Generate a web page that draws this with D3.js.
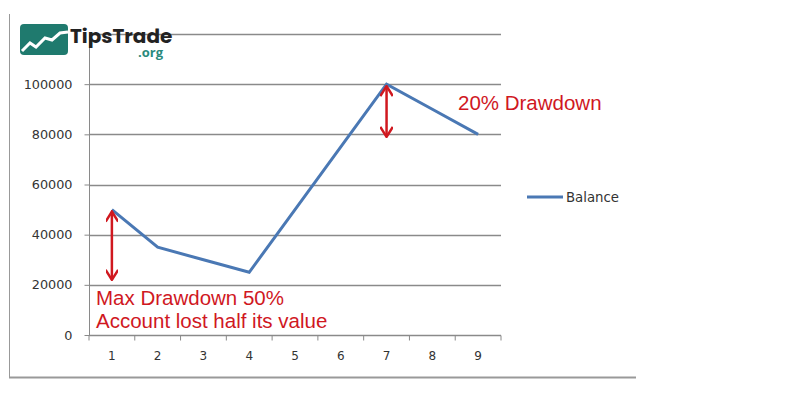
<!DOCTYPE html>
<html>
<head>
<meta charset="utf-8">
<script src="https://cdn.jsdelivr.net/npm/d3@7"></script>
<style>
  body { margin: 0; background: #fff; }
  text { font-family: "Liberation Sans", Arial, sans-serif; }
</style>
</head>
<body>
<div id="chart"></div>
<script>
// balance per period
var periods = [1, 2, 3, 4, 5, 6, 7, 8, 9];
var balance = [50000, 35000, 30000, 25000, 50000, 75000, 100000, 90000, 80000];
var yTicks = [0, 20000, 40000, 60000, 80000, 100000, 120000];
var seriesName = "Balance";

var width = 800, height = 400;
var svg = d3.select("#chart").append("svg")
    .attr("width", width)
    .attr("height", height);

// outer frame (left + bottom only visible)
svg.append("line").attr("x1", 9.5).attr("x2", 9.5).attr("y1", 14).attr("y2", 378)
    .attr("stroke", "#999").attr("stroke-width", 1);
svg.append("line").attr("x1", 9).attr("x2", 636).attr("y1", 377.5).attr("y2", 377.5)
    .attr("stroke", "#999").attr("stroke-width", 2);

var x = d3.scaleBand().domain(periods).range([89, 501]);
var y = d3.scaleLinear().domain([0, 120000]).range([335, 34]);

var g = svg.append("g");

// gridlines
g.selectAll(".grid").data(yTicks.filter(d => d > 0)).enter().append("line")
    .attr("x1", 89).attr("x2", 501)
    .attr("y1", d => Math.round(y(d)) + 0.5).attr("y2", d => Math.round(y(d)) + 0.5)
    .attr("stroke", "#8a8a8a").attr("stroke-width", 1.3);

// y axis
var yAxis = g.append("g").attr("transform", "translate(89.5,0)")
    .call(d3.axisLeft(y).tickValues(yTicks.filter(d => d < 120000)).tickSize(5).tickPadding(12).tickFormat(d3.format("d")));
yAxis.select(".domain").attr("stroke", "#8a8a8a").attr("d", "M0," + y(120000) + "V" + y(0));
yAxis.selectAll(".tick line").attr("stroke", "#8a8a8a");
yAxis.selectAll("text").attr("fill", "#333")
    .style("font-family", "'DejaVu Sans', sans-serif").style("font-size", "12.8px");

// x axis
var xAxis = g.append("g").attr("transform", "translate(0," + (y(0) + 0.5) + ")");
xAxis.append("line").attr("x1", 89).attr("x2", 501).attr("stroke", "#8a8a8a").attr("stroke-width", 1.3);
var xTickPos = periods.map(p => x(p)).concat([501]);
xAxis.selectAll(".xt").data(xTickPos).enter().append("line")
    .attr("x1", d => d).attr("x2", d => d).attr("y1", 0).attr("y2", 5)
    .attr("stroke", "#8a8a8a");
xAxis.selectAll(".xl").data(periods).enter().append("text")
    .attr("x", d => x(d) + x.bandwidth() / 2).attr("y", 24)
    .attr("text-anchor", "middle").attr("fill", "#333")
    .style("font-family", "'DejaVu Sans', sans-serif").style("font-size", "12px")
    .text(d => d);

// balance line
var line = d3.line()
    .x((d, i) => x(periods[i]) + x.bandwidth() / 2)
    .y(d => y(d));
g.append("path").datum(balance)
    .attr("d", line)
    .attr("fill", "none").attr("stroke", "#4a78b4").attr("stroke-width", 3)
    .attr("stroke-linejoin", "miter");

// legend
svg.append("line").attr("x1", 527).attr("x2", 563).attr("y1", 197).attr("y2", 197)
    .attr("stroke", "#4a78b4").attr("stroke-width", 3);
svg.append("text").attr("x", 566).attr("y", 201.5).attr("fill", "#333")
    .style("font-family", "'DejaVu Sans', sans-serif").style("font-size", "13.3px")
    .text(seriesName);

// drawdown arrows
var red = "#d0181f";
svg.append("defs").append("marker")
    .attr("id", "ah").attr("viewBox", "0 0 10 10").attr("refX", 9).attr("refY", 5)
    .attr("markerWidth", 5).attr("markerHeight", 5).attr("orient", "auto-start-reverse")
    .append("path").attr("d", "M1,0 L9,5 L1,10").attr("fill", "none").attr("stroke", red).attr("stroke-width", 2);

function arrow(px, v1, v2) {
  svg.append("line")
    .attr("x1", px).attr("x2", px).attr("y1", y(v1) + 2).attr("y2", y(v2))
    .attr("stroke", red).attr("stroke-width", 2.5)
    .attr("marker-start", "url(#ah)").attr("marker-end", "url(#ah)");
}
var cx = d => x(d) + x.bandwidth() / 2;
arrow(cx(1), 50000, 22000);
arrow(cx(7), 100000, 79000);

svg.append("text").attr("x", 458).attr("y", 110).attr("fill", red)
    .style("font-size", "20.5px").text("20% Drawdown");
svg.append("text").attr("x", 96).attr("y", 305).attr("fill", red)
    .style("font-size", "20.5px").text("Max Drawdown 50%");
svg.append("text").attr("x", 96).attr("y", 328).attr("fill", red)
    .style("font-size", "20.5px").text("Account lost half its value");

// logo
var logo = svg.append("g");
logo.append("rect").attr("x", 20).attr("y", 24).attr("width", 48).attr("height", 31)
    .attr("rx", 4).attr("fill", "#1f7a6e");
logo.append("polyline").attr("points", "22,51 30,43 36,47 45,38 52,40 60,33 68,32")
    .attr("fill", "none").attr("stroke", "#fff").attr("stroke-width", 3);
logo.append("text").attr("x", 70).attr("y", 43).attr("fill", "#222")
    .style("font-family", "Poppins, 'Open Sans', sans-serif").style("font-weight", "700").style("font-size", "20px")
    .text("TipsTrade");
logo.append("text").attr("x", 138).attr("y", 57).attr("fill", "#2a8a7c")
    .style("font-family", "'Open Sans', sans-serif").style("font-weight", "700").style("font-size", "13px")
    .text(".org");
</script>
</body>
</html>
